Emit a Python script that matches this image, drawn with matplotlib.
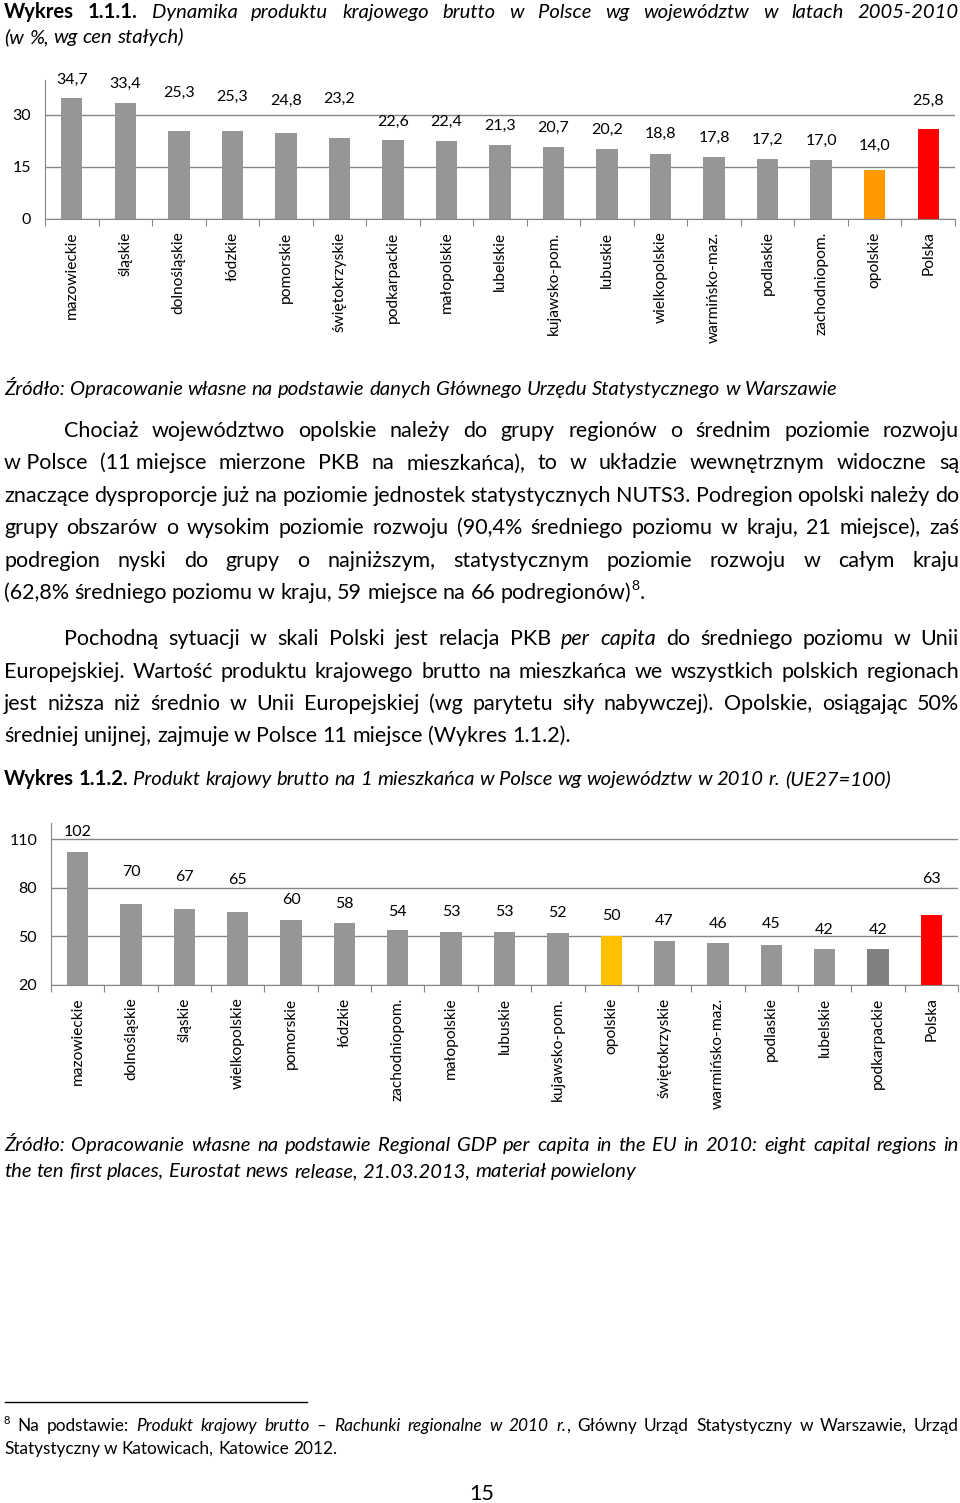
import numpy as np
import matplotlib
matplotlib.use("Agg")
import matplotlib.pyplot as plt
from matplotlib.lines import Line2D

plt.rcParams['font.family'] = ['Lato', 'DejaVu Sans']

W, H = 960, 1503

# --- wykres 1.1.1: dynamika PKB 2005-2010 (w %)
regions1 = ["mazowieckie", "śląskie", "dolnośląskie", "łódzkie", "pomorskie",
            "świętokrzyskie", "podkarpackie", "małopolskie", "lubelskie",
            "kujawsko-pom.", "lubuskie", "wielkopolskie", "warmińsko-maz.",
            "podlaskie", "zachodniopom.", "opolskie", "Polska"]
values1 = [34.7, 33.4, 25.3, 25.3, 24.8, 23.2, 22.6, 22.4, 21.3, 20.7, 20.2,
           18.8, 17.8, 17.2, 17.0, 14.0, 25.8]
ticks1 = [0, 15, 30]

# --- wykres 1.1.2: PKB na mieszkanca 2010 (UE27=100)
regions2 = ["mazowieckie", "dolnośląskie", "śląskie", "wielkopolskie", "pomorskie",
            "łódzkie", "zachodniopom.", "małopolskie", "lubuskie", "kujawsko-pom.",
            "opolskie", "świętokrzyskie", "warmińsko-maz.", "podlaskie", "lubelskie",
            "podkarpackie", "Polska"]
values2 = [102, 70, 67, 65, 60, 58, 54, 53, 53, 52, 50, 47, 46, 45, 42, 42, 63]
ticks2 = [20, 50, 80, 110]

GRAY = "#969696"
colors1 = [GRAY] * 15 + ["#FF9900", "#FF0000"]
colors2 = [GRAY] * 10 + ["#FFC000"] + [GRAY] * 4 + ["#808080", "#FF0000"]
# label offsets above bar tops (pixels) as placed in the original
offs1 = [19, 19, 38, 34, 32, 39, 19, 19, 19, 19, 19, 20, 19, 19, 19, 24, 28]
offs2 = [20, 32, 32, 32, 20, 19, 18, 20, 20, 20, 20, 20, 19, 20, 19, 19, 36]

fig = plt.figure(figsize=(W / 100, H / 100), dpi=100)
renderer = fig.canvas.get_renderer()


def bar_chart(l, t, r, b, cats, vals, cols, offs, ylim, yticks, fmt):
    ax = fig.add_axes([l / W, 1 - b / H, (r - l) / W, (b - t) / H])
    x = np.arange(len(cats))
    ax.bar(x, vals, width=0.4, color=cols, zorder=3)
    ax.set_xlim(-0.5, len(cats) - 0.5)
    ax.set_ylim(*ylim)
    ax.set_yticks(yticks)
    ax.yaxis.grid(True, color="#868686", lw=1)
    ax.set_axisbelow(True)
    for s in ["top", "right"]:
        ax.spines[s].set_visible(False)
    for s in ["left", "bottom"]:
        ax.spines[s].set_color("#868686")
    ax.set_xticks(np.arange(len(cats) + 1) - 0.5)
    ax.set_xticklabels([])
    ax.set_xticks(x, cats, minor=True, rotation=90, fontsize=11.2)
    ax.tick_params(axis="x", which="major", length=5, color="#868686")
    ax.tick_params(axis="x", which="minor", length=0, pad=9)
    ax.tick_params(axis="y", length=0, labelsize=11.5, pad=10)
    for xi, v, o in zip(x, vals, offs):
        ax.annotate(fmt(v), (xi, v), xytext=(0, o), textcoords="offset pixels",
                    ha="center", va="center", fontsize=11.5)
    return ax


bar_chart(45, 80, 955, 219, regions1, values1, colors1, offs1, (0, 40), ticks1,
          lambda v: f"{v:.1f}".replace(".", ","))
bar_chart(51, 823, 958, 985, regions2, values2, colors2, offs2, (20, 120), ticks2,
          lambda v: f"{v:d}")


def words_of(segs):
    words = [[]]
    for txt, st in segs:
        parts = txt.split(" ")
        for k, p in enumerate(parts):
            if k > 0:
                words.append([])
            if p:
                words[-1].append((p.replace("\u00a0", " "), st))
    return [w for w in words if w]


def put_line(y, segs, size=15, x0=4, x1=959, justify=True):
    items = []
    for word in words_of(segs):
        pieces = []
        for txt, st in word:
            kw = {}
            if "b" in st:
                kw["fontweight"] = "bold"
            if "i" in st:
                kw["fontstyle"] = "italic"
            sz = size * 0.65 if "s" in st else size
            dy = -size * 0.55 if "s" in st else 0
            t = fig.text(0, 0, txt, fontsize=sz, va="baseline", ha="left", **kw)
            pieces.append((t, t.get_window_extent(renderer).width, dy))
        items.append(pieces)
    widths = [sum(p[1] for p in pcs) for pcs in items]
    space = size * 100 / 72 * 0.24
    if justify and len(items) > 1:
        space = (x1 - x0 - sum(widths)) / (len(items) - 1)
    x = x0
    for pcs, w in zip(items, widths):
        xx = x
        for t, pw, dy in pcs:
            t.set_position((xx / W, 1 - (y + dy) / H))
            xx += pw
        x += w + space


TS = 14.6
put_line(18, [("Wykres 1.1.1.", "b"),
              (" Dynamika produktu krajowego brutto w Polsce wg województw w latach 2005-2010", "i")],
         size=TS)
put_line(43, [("(w %, wg cen stałych)", "i")], size=TS, justify=False)
put_line(395, [("Źródło: Opracowanie własne na podstawie danych Głównego Urzędu Statystycznego w Warszawie", "i")],
         size=TS, justify=False)

BS = 15.5
para1 = [
    "Chociaż województwo opolskie należy do grupy regionów o średnim poziomie rozwoju",
    "w\u00a0Polsce (11\u00a0miejsce mierzone PKB na mieszkańca), to w układzie wewnętrznym widoczne są",
    "znaczące dysproporcje już na poziomie jednostek statystycznych NUTS3. Podregion opolski należy do",
    "grupy obszarów o wysokim poziomie rozwoju (90,4% średniego poziomu w kraju, 21 miejsce), zaś",
    "podregion nyski do grupy o najniższym, statystycznym poziomie rozwoju w całym kraju",
]
y0 = 437
for k, s in enumerate(para1):
    put_line(y0 + 32.4 * k, [(s, "")], size=BS, x0=64 if k == 0 else 4)
put_line(y0 + 32.4 * 5, [("(62,8% średniego poziomu w kraju, 59 miejsce na 66 podregionów)", ""),
                         ("8", "s"), (".", "")], size=BS, justify=False)

put_line(645, [("Pochodną sytuacji w skali Polski jest relacja PKB ", ""), ("per capita", "i"),
               (" do średniego poziomu w Unii", "")], size=BS, x0=64)
put_line(677.5, [("Europejskiej. Wartość produktu krajowego brutto na mieszkańca we wszystkich polskich regionach", "")],
         size=BS)
put_line(710, [("jest niższa niż średnio w Unii Europejskiej (wg parytetu siły nabywczej). Opolskie, osiągając 50%", "")],
         size=BS)
put_line(742, [("średniej unijnej, zajmuje w Polsce 11 miejsce (Wykres 1.1.2).", "")], size=BS, justify=False)

put_line(785, [("Wykres 1.1.2.", "b"),
               (" Produkt krajowy brutto na 1 mieszkańca w Polsce wg województw w 2010 r. (UE27=100)", "i")],
         size=TS, justify=False)

put_line(1151, [("Źródło: Opracowanie własne na podstawie Regional GDP per capita in the EU in 2010: eight capital regions in", "i")],
         size=TS)
put_line(1177, [("the ten first places, Eurostat news release, 21.03.2013, materiał powielony", "i")],
         size=TS, justify=False)

fig.add_artist(Line2D([5 / W, 307 / W], [1 - 1402 / H] * 2, color="black", lw=1))
FS = 12.4
put_line(1431, [("8", "s"), (" Na podstawie: ", ""),
                ("Produkt krajowy brutto – Rachunki regionalne w 2010 r.", "i"),
                (", Główny Urząd Statystyczny w Warszawie, Urząd", "")], size=FS)
put_line(1454, [("Statystyczny w Katowicach, Katowice 2012.", "")], size=FS, justify=False)

fig.text(482 / W, 1 - 1500 / H, "15", fontsize=BS, ha="center", va="baseline")

fig.savefig("out.png", dpi=100)
